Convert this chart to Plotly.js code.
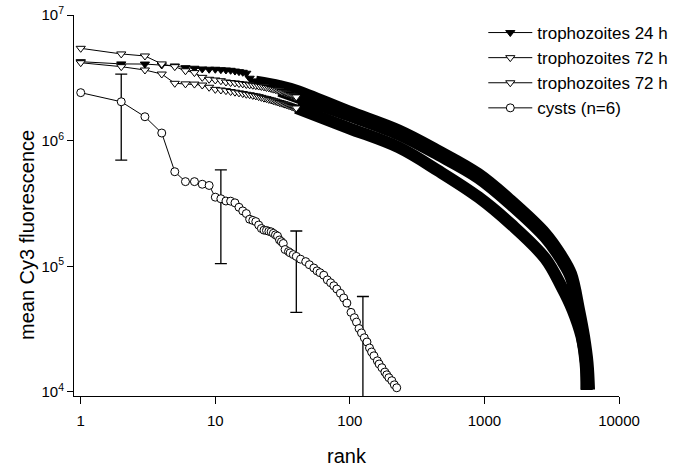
<!DOCTYPE html>
<html>
<head>
<meta charset="utf-8">
<script src="https://cdn.plot.ly/plotly-3.0.1.min.js"></script>
<style>
    html, body { margin:0; padding:0; background:#ffffff; }
    #chart { width:685px; height:473px; }
</style>
</head>
<body>
<div id="chart"></div>
<script>

/* ==========================================
   DATA
========================================== */

// low ranks, one value per rank (markers visible)
const lowRanks = [1,2,3,4,5,6,7,8,9,10,11,12,13,14,15,16,17,18,19,20,
                  21,22,23,24,25,26,27,28,29,30,31,32,33,34,35,36,37,38,39,40];

const troph24Low = [4.25e6,4.08e6,4.07e6,4.00e6,3.93e6,3.81e6,3.77e6,3.72e6,3.70e6,3.70e6,
                    3.67e6,3.65e6,3.63e6,3.58e6,3.54e6,3.50e6,3.44e6,3.14e6,2.99e6,2.95e6,
                    2.92e6,2.89e6,2.87e6,2.85e6,2.83e6,2.80e6,2.78e6,2.76e6,2.74e6,2.72e6,
                    2.70e6,2.68e6,2.66e6,2.64e6,2.62e6,2.60e6,2.58e6,2.56e6,2.53e6,2.50e6];

const troph72aLow = [5.43e6,4.90e6,4.72e6,4.08e6,3.88e6,3.60e6,3.48e6,3.19e6,3.08e6,3.04e6,
                     3.00e6,2.93e6,2.90e6,2.88e6,2.85e6,2.83e6,2.80e6,2.78e6,2.76e6,2.74e6,
                     2.72e6,2.70e6,2.68e6,2.65e6,2.63e6,2.60e6,2.57e6,2.55e6,2.52e6,2.49e6,
                     2.46e6,2.44e6,2.41e6,2.38e6,2.35e6,2.33e6,2.30e6,2.28e6,2.25e6,2.23e6];

const troph72bLow = [4.17e6,3.88e6,3.65e6,3.39e6,2.86e6,2.83e6,2.82e6,2.77e6,2.66e6,2.56e6,
                     2.53e6,2.50e6,2.46e6,2.43e6,2.40e6,2.37e6,2.34e6,2.32e6,2.29e6,2.27e6,
                     2.24e6,2.21e6,2.18e6,2.16e6,2.13e6,2.11e6,2.08e6,2.06e6,2.03e6,2.01e6,
                     1.99e6,1.97e6,1.95e6,1.93e6,1.91e6,1.89e6,1.87e6,1.85e6,1.83e6,1.82e6];

// high ranks, where thousands of markers merge into a solid band
const troph24HighRank = [20,30,40,98,231,456,903,1585,2828,3715,4406,5050,5498,5837,5988];
const troph24High     = [2.95e6,2.72e6,2.50e6,1.71e6,1.205e6,8.28e5,5.43e5,3.31e5,1.83e5,1.22e5,8.70e4,4.50e4,2.76e4,1.70e4,1.04e4];

const troph72aHighRank = [30,40,98,231,456,903,1585,2828,3715,4406,4880,5314,5640,5787];
const troph72aHigh     = [2.49e6,2.23e6,1.59e6,1.12e6,7.69e5,5.05e5,3.08e5,1.70e5,1.135e5,8.09e4,4.50e4,2.76e4,1.70e4,1.04e4];

const troph72bHighRank = [40,98,231,456,903,1585,2828,3715,4520,5268,5689,5720];
const troph72bHigh     = [1.82e6,1.26e6,8.83e5,5.74e5,3.55e5,2.15e5,1.156e5,6.98e4,4.50e4,2.76e4,1.70e4,1.04e4];

// cysts (n=6)
const cystRank = [1,2,3,4,5,6,7,8,9,10,11,12,13,14,15,16,17,18,19,20,
                  21,22,23,24,25,26,27,28,29,30,31,32,33,35,36,38,40,43,47,
                  50,54,57,60,64,68,72,76,80,85,90,95,102,108,112,117,122,128,
                  134,140,145,151,160,165,173,182,188,195,205,214,223];
const cystValue = [2.41e6,2.04e6,1.55e6,1.15e6,5.66e5,4.72e5,4.72e5,4.50e5,4.40e5,3.55e5,
                   3.45e5,3.31e5,3.30e5,3.20e5,2.95e5,2.76e5,2.63e5,2.37e5,2.32e5,2.27e5,
                   2.13e5,2.00e5,1.94e5,1.93e5,1.90e5,1.88e5,1.83e5,1.78e5,1.74e5,1.62e5,
                   1.57e5,1.52e5,1.36e5,1.31e5,1.28e5,1.24e5,1.20e5,1.14e5,1.09e5,
                   1.03e5,9.7e4,9.2e4,8.9e4,8.5e4,7.8e4,7.4e4,7.0e4,6.6e4,6.1e4,5.6e4,5.1e4,4.3e4,3.9e4,3.6e4,3.2e4,2.95e4,2.7e4,
                   2.5e4,2.24e4,2.08e4,1.94e4,1.77e4,1.67e4,1.56e4,1.44e4,1.37e4,1.30e4,1.23e4,1.14e4,1.08e4];

// error bars on a few cyst ranks
const errRank = [2,11,40,125];
const errMean = [2.04e6,3.45e5,1.17e5,2.9e4];
const errSize = [1.34e6,2.4e5,7.4e4,2.85e4];

const xTickVals = [1,10,100,1000,10000];
const xTickText = ["1","10","100","1000","10000"];
const yTickVals = [1e4,1e5,1e6,1e7];
const yTickText = ["10<sup>4</sup>","10<sup>5</sup>","10<sup>6</sup>","10<sup>7</sup>"];


/* ==========================================
   TRACES
========================================== */

function bandTrace(x, y){

    return {
        x:x,
        y:y,
        mode:"lines",
        line:{ color:"#000000", width:12, shape:"spline", smoothing:1 },
        showlegend:false,
        hoverinfo:"skip"
    };

}

function markerTrace(name, x, y, symbol, fill){

    return {
        name:name,
        x:x,
        y:y,
        mode:"lines+markers",
        line:{ color:"#000000", width:1 },
        marker:{
            symbol:symbol,
            size:8,
            color:fill,
            line:{ color:"#000000", width:1 }
        }
    };

}

const traces = [

    bandTrace(troph72bHighRank, troph72bHigh),
    bandTrace(troph72aHighRank, troph72aHigh),
    bandTrace(troph24HighRank, troph24High),

    markerTrace("trophozoites 24 h", lowRanks, troph24Low, "triangle-down", "#000000"),
    markerTrace("trophozoites 72 h", lowRanks, troph72aLow, "triangle-down", "#ffffff"),
    markerTrace("trophozoites 72 h", lowRanks, troph72bLow, "triangle-down", "#ffffff"),

    {
        x:errRank,
        y:errMean,
        mode:"markers",
        marker:{ size:1, opacity:0 },
        error_y:{
            type:"data",
            array:errSize,
            visible:true,
            color:"#000000",
            thickness:1.3,
            width:6
        },
        showlegend:false,
        hoverinfo:"skip"
    },

    markerTrace("cysts (n=6)", cystRank, cystValue, "circle", "#ffffff")

];


/* ==========================================
   LAYOUT
========================================== */

const font = "Liberation Sans, Arial, Helvetica, sans-serif";

const layout = {

    width:685,
    height:473,
    margin:{ l:74, r:64, t:15, b:77 },
    paper_bgcolor:"#ffffff",
    plot_bgcolor:"#ffffff",
    font:{ family:font, color:"#000000", size:15 },
    showlegend:true,

    xaxis:{
        type:"log",
        range:[-0.05, 4],
        showgrid:false,
        zeroline:false,
        showline:true,
        linecolor:"#000000",
        linewidth:1,
        ticks:"outside",
        ticklen:7,
        tickcolor:"#000000",
        tickvals:xTickVals,
        ticktext:xTickText,
        tickfont:{ size:15 },
        ticklabelstandoff:4,
        title:{ text:"rank", font:{ size:20 }, standoff:20 }
    },

    yaxis:{
        type:"log",
        range:[3.968, 7],
        showgrid:false,
        zeroline:false,
        showline:true,
        linecolor:"#000000",
        linewidth:1,
        ticks:"outside",
        ticklen:6,
        tickcolor:"#000000",
        tickvals:yTickVals,
        ticktext:yTickText,
        tickfont:{ size:15 }
    },

    // y title as an annotation so it can sit a little below the plot centre
    annotations:[
        {
            text:"mean Cy3 fluorescence",
            xref:"paper",
            yref:"paper",
            x:-0.086,
            y:0.423,
            xanchor:"center",
            yanchor:"middle",
            textangle:-90,
            showarrow:false,
            font:{ size:20 }
        }
    ],

    legend:{
        x:0.751,
        y:1.0,
        xanchor:"left",
        yanchor:"top",
        bgcolor:"rgba(0,0,0,0)",
        font:{ size:17 },
        itemwidth:44,
        tracegroupgap:0
    }

};

Plotly.newPlot("chart", traces, layout, { displayModeBar:false, staticPlot:true });

</script>
</body>
</html>
